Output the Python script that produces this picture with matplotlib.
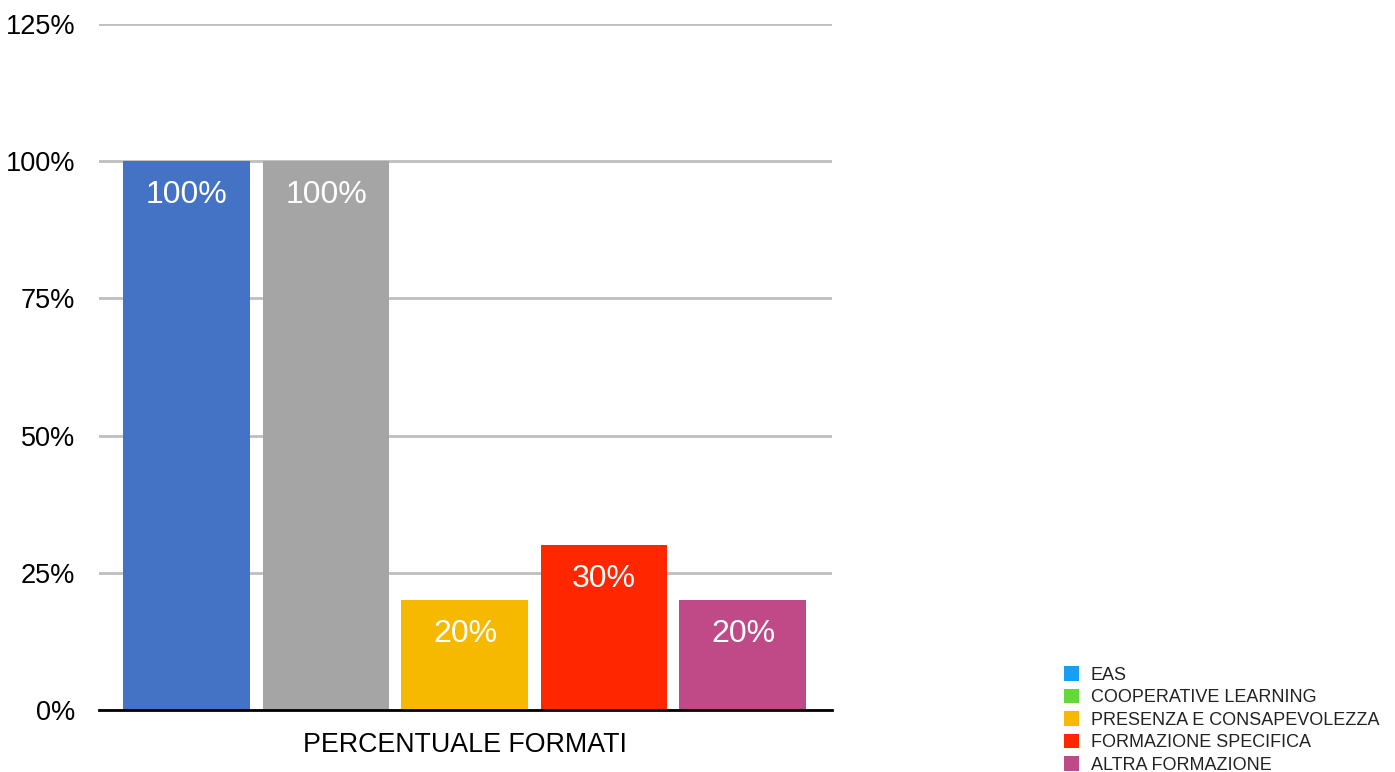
import matplotlib
matplotlib.use("Agg")
import matplotlib.pyplot as plt
from matplotlib.patches import Patch
import numpy as np

plt.rcParams['font.family'] = ['Liberation Sans', 'DejaVu Sans']

category = "PERCENTUALE FORMATI"
series = ["EAS", "COOPERATIVE LEARNING", "PRESENZA E CONSAPEVOLEZZA",
          "FORMAZIONE SPECIFICA", "ALTRA FORMAZIONE"]
values = [100, 100, 20, 30, 20]
bar_colors = ["#4472c4", "#a5a5a5", "#f6b900", "#ff2600", "#c04a87"]
legend_colors = ["#13a0f5", "#62d839", "#f6b900", "#ff2600", "#c04a87"]
yticks = [0, 25, 50, 75, 100, 125]

fig = plt.figure(figsize=(13.95, 7.72), dpi=100)
ax = fig.add_axes([99/1395, 1-710/772, (832-99)/1395, (710-24)/772])

x0 = (187-99)/139
xs = x0 + np.arange(len(values))
bars = ax.bar(xs, values, width=127/139, color=bar_colors, zorder=3)
for b, v in zip(bars, values):
    ax.annotate(f"{v}%", (b.get_x()+b.get_width()/2, v), xytext=(0, -24.5),
                textcoords='offset points', ha='center', va='center',
                color='white', fontsize=23, zorder=4)

ax.set_xlim(0, 733/139)
ax.set_ylim(0, 125)
ax.set_yticks(yticks)
ax.set_yticklabels([f"{t}%" for t in yticks], fontsize=19.5)
ax.set_xticks([xs[2]])
ax.set_xticklabels([category], fontsize=19.3)
ax.tick_params(axis='both', length=0)
ax.tick_params(axis='y', pad=17)
ax.tick_params(axis='x', pad=16)
ax.grid(axis='y', color='#bfbfbf', linewidth=2, zorder=0)
for s in ['top', 'right', 'left']:
    ax.spines[s].set_visible(False)
ax.spines['bottom'].set_linewidth(2)
ax.spines['bottom'].set_color('black')
ax.spines['bottom'].set_zorder(5)

handles = [Patch(facecolor=c, edgecolor='none') for c in legend_colors]
leg = fig.legend(handles, series, loc='lower left',
                 bbox_to_anchor=(1060/1395, -0.0068), frameon=False,
                 fontsize=13, handlelength=0.85, handleheight=0.85,
                 handletextpad=0.64, labelspacing=0.28, labelcolor='#222222',
                 borderaxespad=0, borderpad=0.2)

fig.savefig("out.png", dpi=100)
